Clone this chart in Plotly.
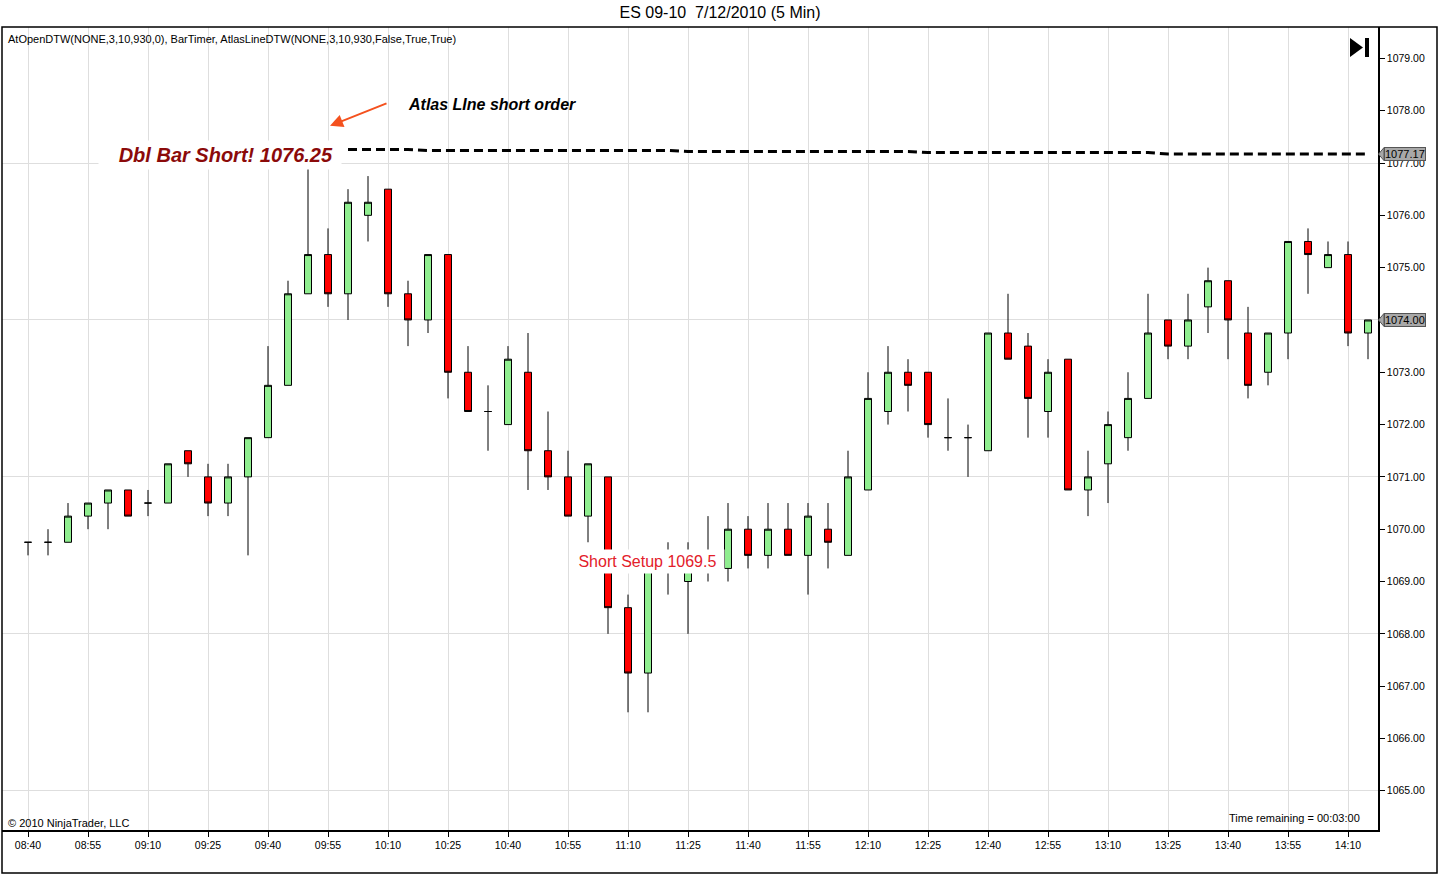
import plotly.graph_objects as go

# 5 minute bars, ES 09-10, 7/12/2010, 08:40 .. 14:15
opens = [1069.75, 1069.75, 1069.75, 1070.25, 1070.5, 1070.75, 1070.5, 1070.5, 1071.5, 1071.0,
         1070.5, 1071.0, 1071.75, 1072.75, 1074.5, 1075.25, 1074.5, 1076.0, 1076.5, 1074.5,
         1074.0, 1075.25, 1073.0, 1072.25, 1072.0, 1073.0, 1071.5, 1071.0, 1070.25, 1071.0,
         1068.5, 1067.25, 1069.5, 1069.0, 1069.25, 1069.25, 1070.0, 1069.5, 1070.0, 1069.5,
         1070.0, 1069.5, 1070.75, 1072.25, 1073.0, 1073.0, 1071.75, 1071.75, 1071.5, 1073.75,
         1073.5, 1072.25, 1073.25, 1070.75, 1071.25, 1071.75, 1072.5, 1074.0, 1073.5, 1074.25,
         1074.75, 1073.75, 1073.0, 1073.75, 1075.5, 1075.0, 1075.25, 1073.75]
highs = [1069.75, 1070.0, 1070.5, 1070.5, 1070.75, 1070.75, 1070.75, 1071.25, 1071.5, 1071.25,
         1071.25, 1071.75, 1073.5, 1074.75, 1077.0, 1075.75, 1076.5, 1076.75, 1076.5, 1074.75,
         1075.25, 1075.25, 1073.5, 1072.75, 1073.5, 1073.75, 1072.25, 1071.5, 1071.25, 1071.0,
         1068.75, 1069.5, 1069.75, 1069.75, 1070.25, 1070.5, 1070.25, 1070.5, 1070.5, 1070.5,
         1070.5, 1071.5, 1073.0, 1073.5, 1073.25, 1073.0, 1072.5, 1072.0, 1073.75, 1074.5,
         1073.75, 1073.25, 1073.25, 1071.5, 1072.25, 1073.0, 1074.5, 1074.0, 1074.5, 1075.0,
         1074.75, 1074.25, 1073.75, 1075.5, 1075.75, 1075.5, 1075.5, 1074.0]
lows = [1069.5, 1069.5, 1069.75, 1070.0, 1070.0, 1070.25, 1070.25, 1070.5, 1071.0, 1070.25,
        1070.25, 1069.5, 1071.75, 1072.75, 1074.5, 1074.25, 1074.0, 1075.5, 1074.25, 1073.5,
        1073.75, 1072.5, 1072.25, 1071.5, 1072.0, 1070.75, 1070.75, 1070.25, 1069.75, 1068.0,
        1066.5, 1066.5, 1068.75, 1068.0, 1069.0, 1069.0, 1069.25, 1069.25, 1069.5, 1068.75,
        1069.25, 1069.5, 1070.75, 1072.0, 1072.25, 1071.75, 1071.5, 1071.0, 1071.5, 1073.25,
        1071.75, 1071.75, 1070.75, 1070.25, 1070.5, 1071.5, 1072.5, 1073.25, 1073.25, 1073.75,
        1073.25, 1072.5, 1072.75, 1073.25, 1074.5, 1075.0, 1073.5, 1073.25]
closes = [1069.75, 1069.75, 1070.25, 1070.5, 1070.75, 1070.25, 1070.5, 1071.25, 1071.25, 1070.5,
          1071.0, 1071.75, 1072.75, 1074.5, 1075.25, 1074.5, 1076.25, 1076.25, 1074.5, 1074.0,
          1075.25, 1073.0, 1072.25, 1072.25, 1073.25, 1071.5, 1071.0, 1070.25, 1071.25, 1068.5,
          1067.25, 1069.5, 1069.25, 1069.25, 1069.5, 1070.0, 1069.5, 1070.0, 1069.5, 1070.25,
          1069.75, 1071.0, 1072.5, 1073.0, 1072.75, 1072.0, 1071.75, 1071.75, 1073.75, 1073.25,
          1072.5, 1073.0, 1070.75, 1071.0, 1072.0, 1072.5, 1073.75, 1073.5, 1074.0, 1074.75,
          1074.0, 1072.75, 1073.75, 1075.5, 1075.25, 1075.25, 1073.75, 1074.0]

# Atlas line (dashed), plotted from bar 16 to the last bar
atlas_start = 16
atlas_values = [1077.26] * 4 + [1077.24] * 13 + [1077.22] * 12 + [1077.20] * 12 + [1077.17] * 11

tick_labels = ["08:40", "08:55", "09:10", "09:25", "09:40", "09:55", "10:10", "10:25",
               "10:40", "10:55", "11:10", "11:25", "11:40", "11:55", "12:10", "12:25",
               "12:40", "12:55", "13:10", "13:25", "13:40", "13:55", "14:10"]

FONT = "Liberation Sans, Arial, sans-serif"
NARROW = "Liberation Sans Narrow, Arial Narrow, Liberation Sans, sans-serif"

# page pixel -> paper helpers (plot area is x 2..1378, y 27..830)
def px(X):
    return (X - 2) / 1376.0

def py(Y):
    return (830 - Y) / 803.0

bars = list(range(len(opens)))

fig = go.Figure()

fig.add_trace(go.Candlestick(
    x=bars, open=opens, high=highs, low=lows, close=closes,
    increasing=dict(fillcolor="#90EE90", line=dict(color="black", width=1)),
    decreasing=dict(fillcolor="#FF0000", line=dict(color="black", width=1)),
    whiskerwidth=0, hoverinfo="skip", showlegend=False,
))

fig.add_trace(go.Scatter(
    x=list(range(atlas_start, atlas_start + len(atlas_values))), y=atlas_values,
    mode="lines", line=dict(color="black", width=3, dash="9px,5px"),
    hoverinfo="skip", showlegend=False,
))

# dummy trace so the grid-only axis is drawn
fig.add_trace(go.Scatter(x=[0], y=[1070], yaxis="y2", mode="markers",
                         marker=dict(opacity=0), hoverinfo="skip", showlegend=False))

annotations = [
    dict(text="AtOpenDTW(NONE,3,10,930,0), BarTimer, AtlasLineDTW(NONE,3,10,930,False,True,True)",
         xref="paper", yref="paper", x=px(6), y=py(39), xanchor="left", yanchor="middle",
         showarrow=False, font=dict(family=FONT, size=11, color="black")),
    dict(text="Atlas LIne short order", xref="x", yref="y", x=18.9, y=1078.11,
         xanchor="left", yanchor="middle", showarrow=False,
         font=dict(family=NARROW, size=16, color="black", weight="bold", style="italic")),
    dict(text="", xref="x", yref="y", x=15.1, y=1077.71, ax=18.0, ay=1078.15,
         axref="x", ayref="y", showarrow=True, arrowhead=2, arrowsize=1.3, arrowwidth=2,
         arrowcolor="#F4511E"),
    dict(text="&nbsp;&nbsp;&nbsp;Dbl Bar Short! 1076.25&nbsp;", xref="x", yref="y", x=9.6, y=1077.15,
         xanchor="center", yanchor="middle", showarrow=False, bgcolor="white", borderpad=3,
         font=dict(family=NARROW, size=20, color="#8B0A0A", weight="bold", style="italic")),
    dict(text="&nbsp;Short Setup 1069.5&nbsp;", xref="x", yref="y", x=27.1, y=1069.38,
         xanchor="left", yanchor="middle", showarrow=False, bgcolor="white", borderpad=3,
         font=dict(family=FONT, size=16, color="#E3202A")),
    dict(text="© 2010 NinjaTrader, LLC", xref="paper", yref="paper", x=px(6), y=py(823),
         xanchor="left", yanchor="middle", showarrow=False,
         font=dict(family=FONT, size=11, color="black")),
    dict(text="Time remaining = 00:03:00", xref="paper", yref="paper", x=px(1362), y=py(818),
         xanchor="right", yanchor="middle", showarrow=False,
         font=dict(family=FONT, size=11, color="black")),
]

shapes = [
    # outer frame
    dict(type="rect", xref="paper", yref="paper", x0=px(2), y0=py(873), x1=px(1437), y1=py(27),
         line=dict(color="black", width=1.5), layer="above"),
    # end-of-chart button
    dict(type="path", xref="paper", yref="paper",
         path=f"M {px(1350)} {py(38)} L {px(1363)} {py(47.5)} L {px(1350)} {py(57)} Z",
         fillcolor="black", line=dict(color="black", width=0)),
    dict(type="rect", xref="paper", yref="paper", x0=px(1365), y0=py(57), x1=px(1369), y1=py(38),
         fillcolor="black", line=dict(width=0)),
]

# price tags on the right axis
for v in [atlas_values[-1], closes[-1]]:
    annotations.append(dict(text=f"{v:.2f}", xref="paper", yref="y", x=px(1384), y=v,
                            xanchor="left", yanchor="middle", showarrow=False,
                            bgcolor="#A8A8A8", bordercolor="#555555", borderwidth=1, borderpad=0,
                            font=dict(family=FONT, size=11, color="black")))
    dy = 6.5 / 52.33
    shapes.append(dict(type="path", xref="paper", yref="y",
                       path=f"M {px(1378.5)} {v} L {px(1384)} {v + dy} L {px(1384)} {v - dy} Z",
                       fillcolor="#A8A8A8", line=dict(color="#555555", width=1)))

fig.update_layout(
    width=1440, height=874,
    margin=dict(l=2, r=62, t=27, b=44),
    paper_bgcolor="white", plot_bgcolor="white",
    title=dict(text="ES 09-10  7/12/2010 (5 Min)", x=0.5, xref="container", xanchor="center",
               y=1 - 12 / 874, yanchor="middle", font=dict(family=FONT, size=16, color="black")),
    boxgap=0.5,
    xaxis=dict(range=[-1.3, 67.5], tickmode="array", tickvals=bars[::3], ticktext=tick_labels,
               showgrid=True, gridcolor="#DEDEDE", gridwidth=1, zeroline=False,
               showline=True, linecolor="black", linewidth=1.5, ticks="outside", ticklen=5,
               tickcolor="black", tickfont=dict(family=FONT, size=10.5, color="black"),
               rangeslider=dict(visible=False), fixedrange=True),
    yaxis=dict(range=[1064.25, 1079.6], side="right", tick0=1065, dtick=1, tickformat=".2f",
               showgrid=False, zeroline=False, showline=True, linecolor="black", linewidth=1.5,
               ticks="outside", ticklen=5, tickcolor="black",
               tickfont=dict(family=FONT, size=10.5, color="black"), fixedrange=True),
    yaxis2=dict(range=[1064.25, 1079.6], overlaying="y", side="right", tick0=1065, dtick=3,
                showgrid=True, gridcolor="#DEDEDE", gridwidth=1, showticklabels=False,
                ticks="", zeroline=False, showline=False, fixedrange=True),
    annotations=annotations,
    shapes=shapes,
    showlegend=False,
)

# the page's default body margin would shift the fixed-size chart
fig.write_html("out.html", config={"displayModeBar": False},
               post_script="document.body.style.margin='0px';")
